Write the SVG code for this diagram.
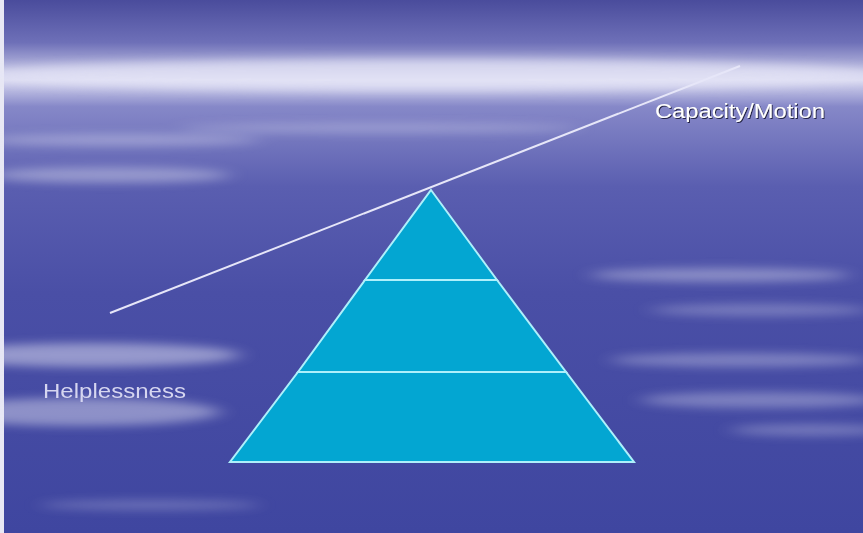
<svg xmlns="http://www.w3.org/2000/svg" width="863" height="533" viewBox="0 0 863 533">
<style>
.lbl{font-family:"Liberation Sans",Arial,sans-serif;font-size:20px}
.tier{fill:#03a6d2;stroke:#aef0fb;stroke-width:2}
</style>
<defs>
<linearGradient id="bg" x1="0" y1="0" x2="0" y2="1">
<stop offset="0" stop-color="#4a4c9c"/>
<stop offset="0.08" stop-color="#6e70b8"/>
<stop offset="0.15" stop-color="#d8d8f0"/>
<stop offset="0.2" stop-color="#8688c8"/>
<stop offset="0.35" stop-color="#5a5eb0"/>
<stop offset="0.55" stop-color="#4a4fa6"/>
<stop offset="1" stop-color="#3f46a0"/>
</linearGradient>
<filter id="blur" x="-20%" y="-200%" width="140%" height="500%"><feGaussianBlur stdDeviation="10 5"/></filter>
<filter id="sh"><feDropShadow dx="1" dy="1" stdDeviation="0.6" flood-color="#222244"/></filter>
</defs>
<rect width="863" height="533" fill="url(#bg)"/>
<rect x="0" y="0" width="4" height="533" fill="#e8e8f4"/>
<g id="clouds" filter="url(#blur)" fill="#e6e6f6">
<ellipse cx="430" cy="75" rx="460" ry="16" opacity="0.7"/>
<ellipse cx="120" cy="140" rx="140" ry="6" opacity="0.35"/>
<ellipse cx="380" cy="128" rx="200" ry="5" opacity="0.3"/>
<ellipse cx="110" cy="175" rx="120" ry="8" opacity="0.4"/>
<ellipse cx="720" cy="275" rx="130" ry="7" opacity="0.4"/>
<ellipse cx="760" cy="310" rx="110" ry="6" opacity="0.3"/>
<ellipse cx="90" cy="355" rx="150" ry="12" opacity="0.5"/>
<ellipse cx="80" cy="412" rx="140" ry="14" opacity="0.45"/>
<ellipse cx="740" cy="360" rx="130" ry="7" opacity="0.35"/>
<ellipse cx="760" cy="400" rx="120" ry="8" opacity="0.35"/>
<ellipse cx="810" cy="430" rx="80" ry="6" opacity="0.3"/>
<ellipse cx="150" cy="505" rx="110" ry="5" opacity="0.25"/>
</g>
<g id="connectors">
<line x1="110" y1="313" x2="740" y2="66" stroke="#e6e6f8" stroke-width="2"/>
</g>
<g id="tier-top"><polygon class="tier" points="431,190 497,280 365,280"/></g>
<g id="tier-mid"><polygon class="tier" points="365,280 497,280 566,372 298,372"/></g>
<g id="tier-bottom"><polygon class="tier" points="298,372 566,372 634,462 230,462"/></g>
<g id="label-capacity"><text class="lbl" x="655" y="118" fill="#ffffff" filter="url(#sh)" textLength="170" lengthAdjust="spacingAndGlyphs">Capacity/Motion</text></g>
<g id="label-helplessness"><text class="lbl" x="43" y="398" fill="#d6d6f0" textLength="143" lengthAdjust="spacingAndGlyphs">Helplessness</text></g>
</svg>
